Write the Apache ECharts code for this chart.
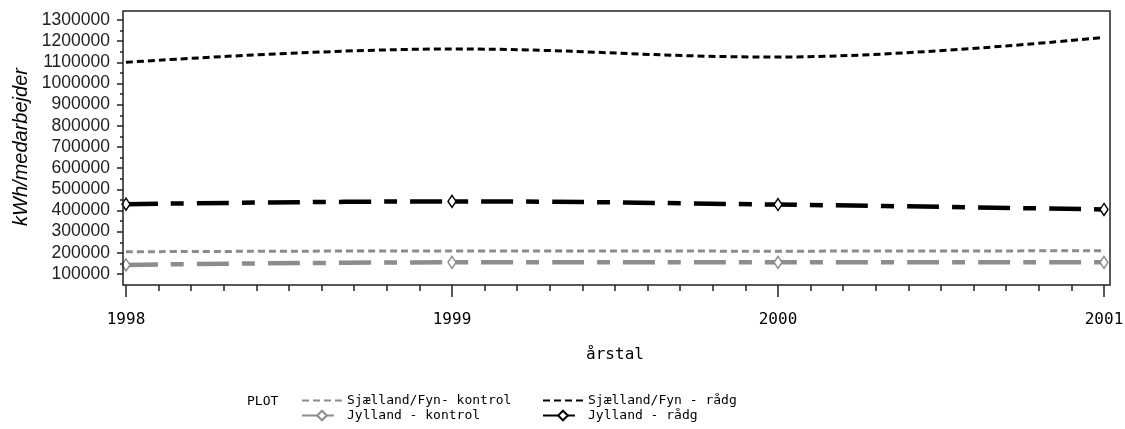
<!DOCTYPE html>
<html>
<head>
  <meta charset="utf-8" />
  <title>kWh/medarbejder</title>
  <style>
    html, body { margin: 0; padding: 0; background: #fff; }
    #chartBox { width: 1125px; height: 429px; }
  </style>
</head>
<body>
  <div id="chartBox"></div>
  <script src="https://cdn.jsdelivr.net/npm/echarts@6/dist/echarts.min.js"></script>
  <script>
    // 数据
    var years = [1998, 1999, 2000, 2001];
    var sfKontrol = [205000, 209000, 208000, 210000];
    var jyKontrol = [143000, 155000, 155000, 155000];
    var sfRaadg = [1100000, 1163000, 1125000, 1218000];
    var jyRaadg = [430000, 443000, 428000, 405000];
    var seriesNames = ['Sjælland/Fyn- kontrol', 'Jylland - kontrol', 'Sjælland/Fyn - rådg', 'Jylland - rådg'];

    var monoFont = '"DejaVu Sans Mono", monospace';
    var gray = '#8c8c8c';

    function pairs(vals) {
      var arr = [];
      for (var i = 0; i < years.length; i++) {
        arr.push([years[i], vals[i]]);
      }
      return arr;
    }

    function makeSeries(name, vals, color, width, dash, marks) {
      return {
        name: name,
        type: 'line',
        smooth: 0.4,
        data: pairs(vals),
        showSymbol: marks,
        symbol: 'diamond',
        symbolSize: [8, 12],
        itemStyle: { color: '#fff', borderColor: color, borderWidth: 1.5 },
        lineStyle: { color: color, width: width, type: dash },
        emphasis: { disabled: true },
        z: marks ? 3 : 2
      };
    }

    // 图例项, 无标记的线隐藏图例符号
    function legendItem(name, marks) {
      var item = { name: name };
      if (!marks) {
        item.itemStyle = { opacity: 0 };
      }
      return item;
    }

    function legendBox(left, names, marks) {
      return {
        data: [legendItem(names[0], marks[0]), legendItem(names[1], marks[1])],
        orient: 'vertical', left: left, top: 389, itemGap: 2,
        itemWidth: 40, itemHeight: 12,
        textStyle: { fontFamily: monoFont, fontSize: 13, color: '#000', padding: [0, 0, 0, 0] }
      };
    }

    var myChart = echarts.init(document.getElementById('chartBox'));
    var option = {
      animation: false,
      grid: { left: 126, right: 21, top: 20, bottom: 155, containLabel: false, outerBoundsMode: 'none' },
      title: {
        text: 'PLOT', left: 242, top: 390,
        textStyle: { fontFamily: monoFont, fontSize: 13, fontWeight: 'normal', color: '#000' }
      },
      legend: [
        legendBox(296, [seriesNames[0], seriesNames[1]], [false, true]),
        legendBox(537, [seriesNames[2], seriesNames[3]], [false, true])
      ],
      xAxis: {
        type: 'value', min: 1998, max: 2001, interval: 1,
        offset: 11,
        name: 'årstal', nameLocation: 'middle', nameGap: 62,
        nameTextStyle: { fontFamily: monoFont, fontSize: 16, color: '#000' },
        axisLine: { show: false },
        axisTick: { show: true, length: 12, lineStyle: { color: '#222', width: 1.5 } },
        minorTick: { show: true, splitNumber: 10, length: 6, lineStyle: { color: '#222', width: 1.5 } },
        axisLabel: { margin: 27, fontFamily: monoFont, fontSize: 16, color: '#000', formatter: function (v) { return String(v); } },
        splitLine: { show: false }
      },
      yAxis: {
        type: 'value', min: 100000, max: 1300000, interval: 100000,
        offset: 3,
        name: 'kWh/medarbejder', nameLocation: 'middle', nameGap: 90,
        nameTextStyle: { fontFamily: 'Liberation Sans', fontSize: 20, fontStyle: 'italic', color: '#000' },
        axisLine: { show: false },
        axisTick: { show: true, length: 6, lineStyle: { color: '#222', width: 1.5 } },
        minorTick: { show: true, splitNumber: 2, length: 3, lineStyle: { color: '#222', width: 1.5 } },
        axisLabel: { margin: 13, fontFamily: 'Liberation Sans', fontSize: 17.5, color: '#222', formatter: function (v) { return String(v); } },
        splitLine: { show: false }
      },
      // 外框
      graphic: [{
        type: 'rect', z: 10, silent: true,
        shape: { x: 123, y: 11, width: 987, height: 274 },
        style: { fill: 'none', stroke: '#222', lineWidth: 1.5 }
      }],
      series: [
        makeSeries(seriesNames[0], sfKontrol, gray, 3, [7, 4], false),
        makeSeries(seriesNames[1], jyKontrol, gray, 4.5, [32, 13, 13, 13], true),
        makeSeries(seriesNames[2], sfRaadg, '#000', 3, [7, 4], false),
        makeSeries(seriesNames[3], jyRaadg, '#000', 4.5, [32, 13, 13, 13], true)
      ]
    };
    myChart.setOption(option);
  </script>
</body>
</html>
